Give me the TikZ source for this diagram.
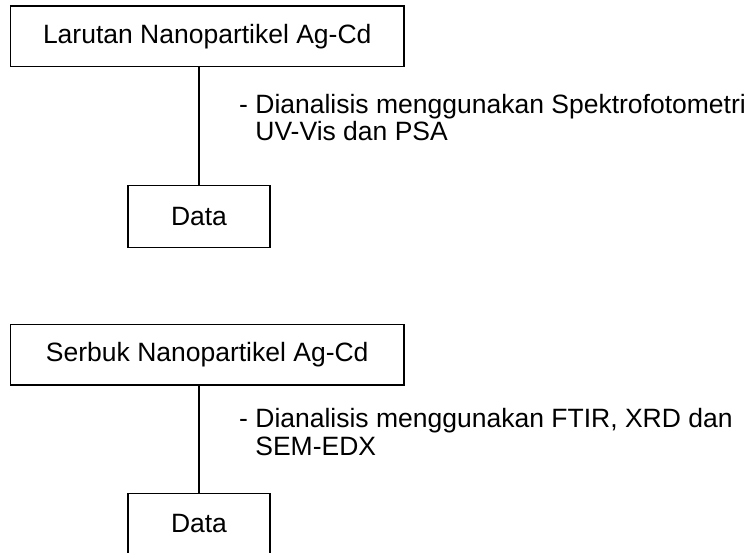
\documentclass[tikz,border=0pt]{standalone}
\usepackage{fontspec}
\setmainfont{Liberation Sans}
\usetikzlibrary{positioning}
\tikzset{
	sample/.style={draw, line width=1.5pt, minimum width=393.5pt, minimum height=60.5pt, inner sep=0pt},
	databox/.style={draw, line width=1.5pt, minimum width=142pt, minimum height=61.5pt, inner sep=0pt},
	note/.style={anchor=north west, align=left, inner sep=0pt},
}

\begin{document}
\begin{tikzpicture}[x=1pt, y=-1pt, font=\fontsize{26.5}{27.5}\selectfont]
		%%%%% START %%%%%
		\useasboundingbox (0, 0) rectangle (754, 553);
		\clip (0, 0) rectangle (754, 553);
		
		% larutan
		\node[sample] (larutan) at (207.25, 36.25) {Larutan Nanopartikel Ag-Cd};
		\node[databox] (data1) at (199, 216.5) {Data};
		\draw[line width=1.5pt] (data1.north) -- (data1.north |- larutan.south);
		\node[note] (uji1) at (239, 94) {- Dianalisis menggunakan Spektrofotometri\\\hphantom{- }UV-Vis dan PSA};
		
		% serbuk
		\node[sample] (serbuk) at (207.25, 354.85) {Serbuk Nanopartikel Ag-Cd};
		\node[databox] (data2) at (199, 524) {Data};
		\draw[line width=1.5pt] (data2.north) -- (data2.north |- serbuk.south);
		\node[note] (uji2) at (239, 408.5) {- Dianalisis menggunakan FTIR, XRD dan\\\hphantom{- }SEM-EDX};
		%%%%% END %%%%%
	\end{tikzpicture}
\end{document}
